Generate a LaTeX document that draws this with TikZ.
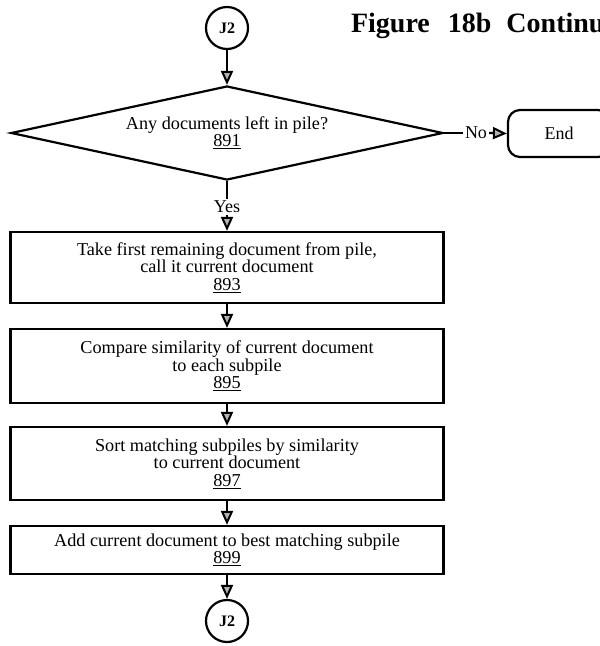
\documentclass[tikz,border=0pt]{standalone}
\usepackage{fontspec}
\setmainfont{Liberation Serif}
\usetikzlibrary{shapes.geometric,arrows.meta}

\begin{document}
\begin{tikzpicture}[x=1pt, y=-1pt, line width=2.2pt,
	stepbox/.style={draw, rectangle, minimum width=433pt, inner sep=0pt,
		align=center, font=\fontsize{18.2}{17.5}\selectfont},
	joint/.style={draw, circle, minimum size=42pt, inner sep=0pt,
		font=\fontsize{16}{16}\selectfont\bfseries},
	flowlabel/.style={inner sep=1pt, font=\fontsize{18}{18}\selectfont},
	flow/.style={-{Triangle[width=12pt, length=14pt, fill=gray!60, line width=2pt]}}]
	\useasboundingbox (0,0) rectangle (600,646);

	\coordinate[](t) at (350,32);
	\coordinate[](j) at (227,28);
	\coordinate[](d) at (227,133);
	\coordinate[](e) at (559,133.5);
	\coordinate[](a) at (227,267.5);
	\coordinate[](b) at (227,366);
	\coordinate[](c) at (227,463.5);
	\coordinate[](f) at (227,550);
	\coordinate[](k) at (227,621);

	%% Title
	\node[anchor=base west, inner sep=0pt, font=\fontsize{28}{28}\selectfont\bfseries]
	(title) at (t) {Figure\hspace{18pt}18b\hspace{15pt}Continued};

	% Decision
	\node[joint] (jtop) at (j) {J2};
	\node[draw, diamond, aspect=4.6, minimum width=432pt, minimum height=94pt,
	inner sep=0pt, align=center, font=\fontsize{18.2}{16}\selectfont]
	(pile) at (d) {Any documents left in pile?\\\underline{891}};
	\node[draw, rectangle, rounded corners=12pt, minimum width=102pt, minimum height=47pt,
	font=\fontsize{18}{18}\selectfont] (done) at (e) {End};

	% Steps
	\node[stepbox, minimum height=71pt] (take) at (a)
	{Take first remaining document from pile,\\call it current document\\\underline{893}};
	\node[stepbox, minimum height=74pt] (compare) at (b)
	{Compare similarity of current document\\to each subpile\\\underline{895}};
	\node[stepbox, minimum height=73pt] (sort) at (c)
	{Sort matching subpiles by similarity\\to current document\\\underline{897}};
	\node[stepbox, minimum height=48pt] (add) at (f)
	{Add current document to best matching subpile\\\underline{899}};
	\node[joint] (jbot) at (k) {J2};

	%% Labels
	\node[flowlabel] (yes) at (227,207) {Yes};
	\node[flowlabel] (no) at (476,133) {No};

	%% Connectors
	\draw[flow] (jtop.south) -- (pile.north);
	\draw (pile.south) -- (yes.north);
	\draw[flow] (yes.south) -- (take.north);
	\draw (pile.east) -- (no.west);
	\draw[flow] (no.east) -- (done.west);
	%
	\draw[flow] (take.south) -- (compare.north);
	\draw[flow] (compare.south) -- (sort.north);
	\draw[flow] (sort.south) -- (add.north);
	\draw[flow] (add.south) -- (jbot.north);

\end{tikzpicture}
\end{document}
